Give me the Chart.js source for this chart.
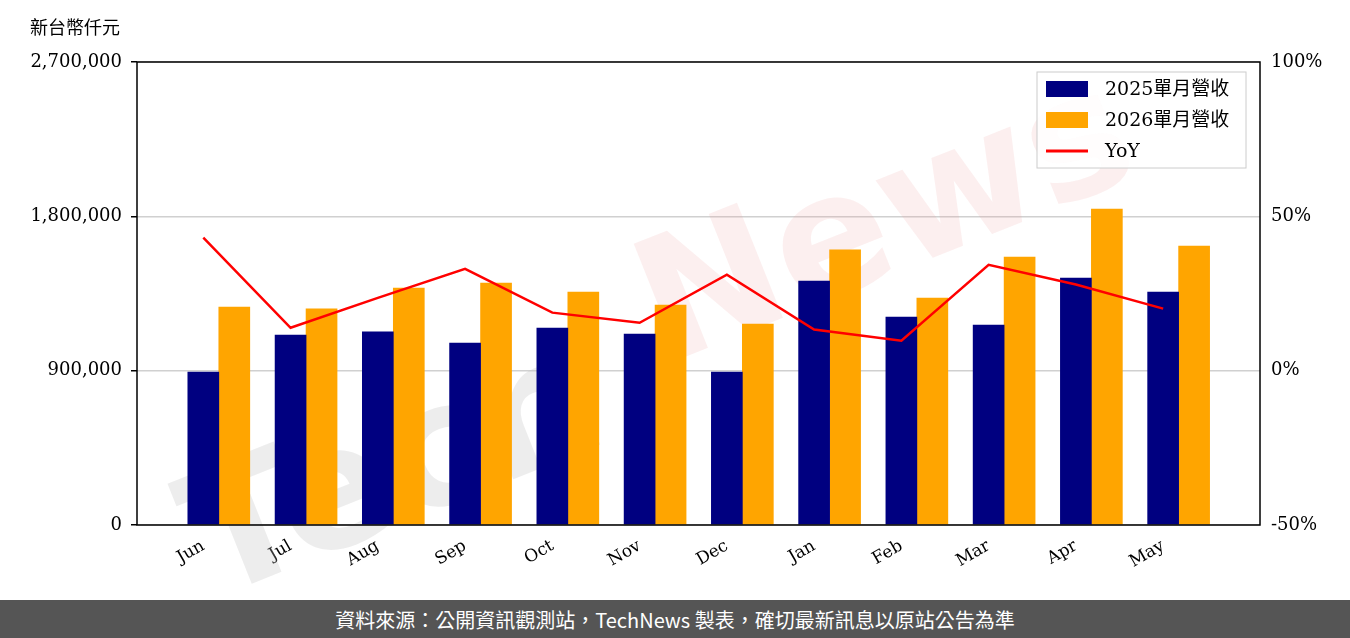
<!DOCTYPE html>
<html><head><meta charset="utf-8">
<script src="https://cdn.jsdelivr.net/npm/chart.js@4"></script>
<style>
body{margin:0;width:1350px;height:638px;background:#fff;overflow:hidden}
#wrap{position:relative;width:1350px;height:600px}
#foot{height:38px;background:#555;color:#fff;font:20px "Noto Sans CJK TC","Noto Sans";display:flex;align-items:center;justify-content:center}
</style></head><body>
<div id="wrap"><canvas id="c" width="1350" height="600"></canvas></div>
<div id="foot">資料來源：公開資訊觀測站，TechNews 製表，確切最新訊息以原站公告為準</div>
<script>
const categories=["Jun","Jul","Aug","Sep","Oct","Nov","Dec","Jan","Feb","Mar","Apr","May"];
const rev2025=[892000,1108000,1126000,1061000,1149000,1114000,892000,1423000,1213000,1166000,1440000,1359000];
const rev2026=[1271000,1260000,1382000,1411000,1359000,1283000,1172000,1604000,1324000,1563000,1843000,1627000];
const yoy=[43.1,13.9,23.6,33.0,18.8,15.5,31.1,13.3,9.7,34.3,27.9,20.1];
const leftTicks=[0,900000,1800000,2700000];
const rightTicks=[-50,0,50,100];
const serif='"DejaVu Serif"';
const off=0.355;
const deco={id:'deco',
 beforeDatasetsDraw(ch){const c=ch.ctx;c.save();c.translate(660,330);c.rotate(-0.38);
  c.font='bold 170px "DejaVu Sans"';c.textAlign='center';c.textBaseline='middle';
  c.fillStyle='rgba(190,190,190,0.28)';c.fillText('Tech',-300,40);
  c.fillStyle='rgba(235,150,150,0.15)';c.fillText('News',250,-10);c.restore();},
 afterDraw(ch){const c=ch.ctx,a=ch.chartArea;c.save();
  c.strokeStyle='#000';c.lineWidth=1.5;c.strokeRect(a.left,a.top,a.right-a.left,a.bottom-a.top);
  c.font='18px "Noto Sans CJK TC"';c.fillStyle='#000';c.textBaseline='middle';c.fillText('新台幣仟元',30,27);
  const lx=1037,ly=72,w=209,h=96;c.fillStyle='rgba(255,255,255,0.85)';c.fillRect(lx,ly,w,h);
  c.strokeStyle='#ccc';c.lineWidth=1;c.strokeRect(lx,ly,w,h);
  const items=[['#000080','bar','2025單月營收'],['#FFA500','bar','2026單月營收'],['#FF0000','line','YoY']];
  c.font='19px "DejaVu Serif","Noto Sans CJK TC"';
  items.forEach((it,i)=>{const y=ly+17+i*31;
   if(it[1]=='bar'){c.fillStyle=it[0];c.fillRect(lx+9,y-8,42,16);}
   else{c.strokeStyle=it[0];c.lineWidth=3;c.beginPath();c.moveTo(lx+9,y);c.lineTo(lx+51,y);c.stroke();}
   c.fillStyle='#000';c.fillText(it[2],lx+68,y+1);});
  c.restore();}};
new Chart(document.getElementById('c'),{
 data:{datasets:[
  {type:'line',data:yoy.map((v,i)=>({x:i,y:v})),yAxisID:'y1',borderColor:'#FF0000',borderWidth:2.5,pointRadius:0,order:0},
  {type:'bar',data:rev2025.map((v,i)=>({x:i,y:v})),backgroundColor:'#000080',yAxisID:'y',order:1,grouped:false,barThickness:31},
  {type:'bar',data:rev2026.map((v,i)=>({x:i+off,y:v})),backgroundColor:'#FFA500',yAxisID:'y',order:1,grouped:false,barThickness:31}]},
 options:{responsive:false,animation:false,layout:{padding:{top:62,left:0,right:0,bottom:0}},
  plugins:{legend:{display:false},tooltip:{enabled:false}},
  scales:{
   x:{type:'linear',min:-0.76,max:12.11,offset:false,grid:{display:false},border:{display:false},afterFit:s=>{s.height=75},
      afterBuildTicks:s=>{s.ticks=categories.map((_,i)=>({value:i}))},
      ticks:{maxRotation:30,minRotation:30,color:'#000',font:{family:serif,size:17},callback:v=>categories[v]}},
   y:{position:'left',min:0,max:2700000,afterFit:s=>{s.width=137},afterBuildTicks:s=>{s.ticks=leftTicks.map(v=>({value:v}))},
      grid:{color:'#d0d0d0',lineWidth:1.5,drawTicks:true,tickColor:'#000',tickLength:6},border:{display:false},
      ticks:{color:'#000',padding:9,font:{family:serif,size:18},callback:v=>v.toLocaleString('en-US')}},
   y1:{position:'right',min:-50,max:100,afterFit:s=>{s.width=90},afterBuildTicks:s=>{s.ticks=rightTicks.map(v=>({value:v}))},
      grid:{display:false,drawOnChartArea:false},border:{display:false},
      ticks:{color:'#000',font:{family:serif,size:18},callback:v=>v+'%'}}}},
 plugins:[deco]});
</script></body></html>
